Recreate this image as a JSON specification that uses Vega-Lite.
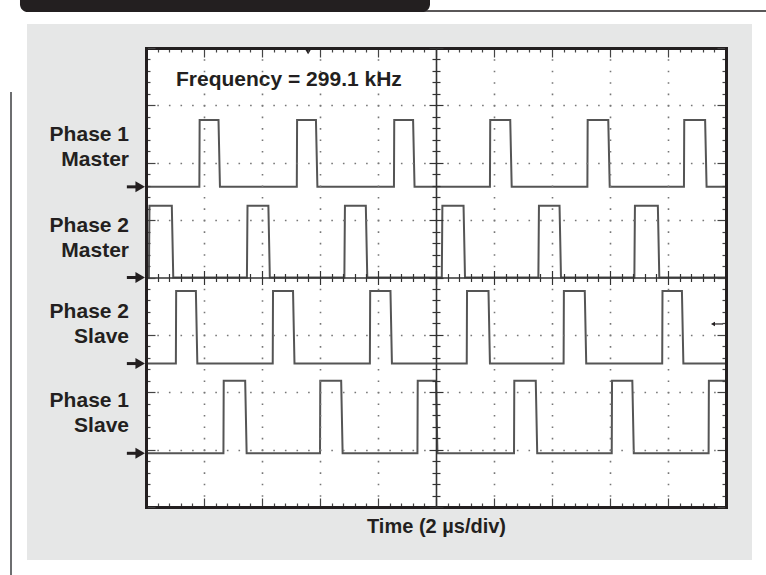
{
  "$schema": "https://vega.github.io/schema/vega-lite/v6.json",
  "autosize": {"type": "none"},
  "width": 580,
  "height": 459,
  "padding": {"left": 146, "top": 48, "right": 40, "bottom": 68},
  "background": "white",
  "view": {"stroke": null},
  "config": {"font": "Liberation Sans"},
  "data": {"values": [{}]},
  "datasets": {
    "tr": [
      {"s":"P1M","i":1,"t":0,"v":5.58},{"s":"P1M","i":2,"t":1.84,"v":5.58},{"s":"P1M","i":3,"t":1.85,"v":6.745},{"s":"P1M","i":4,"t":2.5,"v":6.745},{"s":"P1M","i":5,"t":2.55,"v":5.58},{"s":"P1M","i":6,"t":5.2,"v":5.58},{"s":"P1M","i":7,"t":5.21,"v":6.745},{"s":"P1M","i":8,"t":5.86,"v":6.745},{"s":"P1M","i":9,"t":5.91,"v":5.58},{"s":"P1M","i":10,"t":8.55,"v":5.58},{"s":"P1M","i":11,"t":8.56,"v":6.745},{"s":"P1M","i":12,"t":9.21,"v":6.745},{"s":"P1M","i":13,"t":9.26,"v":5.58},{"s":"P1M","i":14,"t":11.86,"v":5.58},{"s":"P1M","i":15,"t":11.87,"v":6.745},{"s":"P1M","i":16,"t":12.56,"v":6.745},{"s":"P1M","i":17,"t":12.61,"v":5.58},{"s":"P1M","i":18,"t":15.22,"v":5.58},{"s":"P1M","i":19,"t":15.23,"v":6.745},{"s":"P1M","i":20,"t":15.94,"v":6.745},{"s":"P1M","i":21,"t":15.99,"v":5.58},{"s":"P1M","i":22,"t":18.55,"v":5.58},{"s":"P1M","i":23,"t":18.56,"v":6.745},{"s":"P1M","i":24,"t":19.28,"v":6.745},{"s":"P1M","i":25,"t":19.33,"v":5.58},{"s":"P1M","i":26,"t":20,"v":5.58},
      {"s":"P2M","i":1,"t":0,"v":4.0},{"s":"P2M","i":2,"t":0.1,"v":4.0},{"s":"P2M","i":3,"t":0.12,"v":5.25},{"s":"P2M","i":4,"t":0.89,"v":5.25},{"s":"P2M","i":5,"t":0.94,"v":4.0},{"s":"P2M","i":6,"t":3.48,"v":4.0},{"s":"P2M","i":7,"t":3.5,"v":5.25},{"s":"P2M","i":8,"t":4.22,"v":5.25},{"s":"P2M","i":9,"t":4.27,"v":4.0},{"s":"P2M","i":10,"t":6.84,"v":4.0},{"s":"P2M","i":11,"t":6.86,"v":5.25},{"s":"P2M","i":12,"t":7.58,"v":5.25},{"s":"P2M","i":13,"t":7.63,"v":4.0},{"s":"P2M","i":14,"t":10.2,"v":4.0},{"s":"P2M","i":15,"t":10.22,"v":5.25},{"s":"P2M","i":16,"t":10.95,"v":5.25},{"s":"P2M","i":17,"t":11.0,"v":4.0},{"s":"P2M","i":18,"t":13.53,"v":4.0},{"s":"P2M","i":19,"t":13.55,"v":5.25},{"s":"P2M","i":20,"t":14.26,"v":5.25},{"s":"P2M","i":21,"t":14.31,"v":4.0},{"s":"P2M","i":22,"t":16.84,"v":4.0},{"s":"P2M","i":23,"t":16.86,"v":5.25},{"s":"P2M","i":24,"t":17.65,"v":5.25},{"s":"P2M","i":25,"t":17.7,"v":4.0},{"s":"P2M","i":26,"t":20,"v":4.0},
      {"s":"P2S","i":1,"t":0,"v":2.5},{"s":"P2S","i":2,"t":1.03,"v":2.5},{"s":"P2S","i":3,"t":1.04,"v":3.765},{"s":"P2S","i":4,"t":1.72,"v":3.765},{"s":"P2S","i":5,"t":1.77,"v":2.5},{"s":"P2S","i":6,"t":4.37,"v":2.5},{"s":"P2S","i":7,"t":4.38,"v":3.765},{"s":"P2S","i":8,"t":5.07,"v":3.765},{"s":"P2S","i":9,"t":5.12,"v":2.5},{"s":"P2S","i":10,"t":7.72,"v":2.5},{"s":"P2S","i":11,"t":7.73,"v":3.765},{"s":"P2S","i":12,"t":8.43,"v":3.765},{"s":"P2S","i":13,"t":8.48,"v":2.5},{"s":"P2S","i":14,"t":11.06,"v":2.5},{"s":"P2S","i":15,"t":11.07,"v":3.765},{"s":"P2S","i":16,"t":11.81,"v":3.765},{"s":"P2S","i":17,"t":11.86,"v":2.5},{"s":"P2S","i":18,"t":14.4,"v":2.5},{"s":"P2S","i":19,"t":14.41,"v":3.765},{"s":"P2S","i":20,"t":15.13,"v":3.765},{"s":"P2S","i":21,"t":15.18,"v":2.5},{"s":"P2S","i":22,"t":17.8,"v":2.5},{"s":"P2S","i":23,"t":17.81,"v":3.765},{"s":"P2S","i":24,"t":18.48,"v":3.765},{"s":"P2S","i":25,"t":18.53,"v":2.5},{"s":"P2S","i":26,"t":20,"v":2.5},
      {"s":"P1S","i":1,"t":0,"v":0.936},{"s":"P1S","i":2,"t":2.67,"v":0.936},{"s":"P1S","i":3,"t":2.68,"v":2.2},{"s":"P1S","i":4,"t":3.42,"v":2.2},{"s":"P1S","i":5,"t":3.47,"v":0.936},{"s":"P1S","i":6,"t":6.0,"v":0.936},{"s":"P1S","i":7,"t":6.01,"v":2.2},{"s":"P1S","i":8,"t":6.73,"v":2.2},{"s":"P1S","i":9,"t":6.78,"v":0.936},{"s":"P1S","i":10,"t":9.36,"v":0.936},{"s":"P1S","i":11,"t":9.37,"v":2.2},{"s":"P1S","i":12,"t":10.0,"v":2.2},{"s":"P1S","i":13,"t":10.05,"v":0.936},{"s":"P1S","i":14,"t":12.69,"v":0.936},{"s":"P1S","i":15,"t":12.7,"v":2.2},{"s":"P1S","i":16,"t":13.44,"v":2.2},{"s":"P1S","i":17,"t":13.49,"v":0.936},{"s":"P1S","i":18,"t":16.06,"v":0.936},{"s":"P1S","i":19,"t":16.07,"v":2.2},{"s":"P1S","i":20,"t":16.77,"v":2.2},{"s":"P1S","i":21,"t":16.82,"v":0.936},{"s":"P1S","i":22,"t":19.4,"v":0.936},{"s":"P1S","i":23,"t":19.41,"v":2.2},{"s":"P1S","i":24,"t":20,"v":2.2}
    ],
    "ch": [
      {"label": "Phase 1\nMaster", "base": 5.58},
      {"label": "Phase 2\nMaster", "base": 4.0},
      {"label": "Phase 2\nSlave", "base": 2.5},
      {"label": "Phase 1\nSlave", "base": 0.936}
    ]
  },
  "resolve": {"axis": {"x": "independent", "y": "independent"}},
  "layer": [
    {
      "mark": {"type": "rect", "fill": "#e6e7e7", "clip": false},
      "encoding": {
        "x": {"datum": -4.103, "type": "quantitative", "scale": {"domain": [0, 20], "nice": false, "zero": false}, "axis": null},
        "x2": {"datum": 20.897},
        "y": {"datum": 8.418, "type": "quantitative", "scale": {"domain": [0, 8], "nice": false, "zero": false}, "axis": null},
        "y2": {"datum": -0.924}
      }
    },
    {
      "mark": {"type": "rect", "fill": "white"},
      "encoding": {
        "x": {"datum": 0, "type": "quantitative", "axis": null},
        "x2": {"datum": 20},
        "y": {"datum": 0, "type": "quantitative", "axis": null},
        "y2": {"datum": 8}
      }
    },
    {
      "mark": {"type": "rect", "fill": "#231f20", "cornerRadiusBottomLeft": 13, "cornerRadiusBottomRight": 13},
      "encoding": {
        "x": {"datum": -4.345, "type": "quantitative", "axis": null},
        "x2": {"datum": 9.793},
        "y": {"datum": 8.9, "type": "quantitative", "axis": null},
        "y2": {"datum": 8.627}
      }
    },
    {
      "mark": {"type": "rule", "stroke": "#231f20", "strokeWidth": 1.5},
      "encoding": {
        "x": {"datum": 9.5, "type": "quantitative", "axis": null},
        "x2": {"datum": 21.4},
        "y": {"datum": 8.645, "type": "quantitative", "axis": null}
      }
    },
    {
      "mark": {"type": "rule", "stroke": "#6d6e70", "strokeWidth": 2},
      "encoding": {
        "x": {"datum": -4.655, "type": "quantitative", "axis": null},
        "y": {"datum": 7.233, "type": "quantitative", "axis": null},
        "y2": {"datum": -1.2}
      }
    },
    {
      "data": {"name": "tr"},
      "mark": {"type": "line", "stroke": "#555555", "strokeWidth": 2, "interpolate": "linear"},
      "encoding": {
        "detail": {"field": "s"},
        "order": {"field": "i", "type": "quantitative"},
        "x": {
          "field": "t", "type": "quantitative",
          "axis": {
            "orient": "bottom", "zindex": 1, "labels": false,
            "title": "Time (2 µs/div)", "titleFont": "Liberation Sans", "titleFontSize": 20, "titleFontWeight": "bold", "titleColor": "#231f20", "titlePadding": 9,
            "values": [0,0.4,0.8,1.2,1.6,2,2.4,2.8,3.2,3.6,4,4.4,4.8,5.2,5.6,6,6.4,6.8,7.2,7.6,8,8.4,8.8,9.2,9.6,10,10.4,10.8,11.2,11.6,12,12.4,12.8,13.2,13.6,14,14.4,14.8,15.2,15.6,16,16.4,16.8,17.2,17.6,18,18.4,18.8,19.2,19.6,20],
            "domain": true, "domainColor": "#231f20", "domainWidth": 3, "domainCap": "square",
            "ticks": true, "tickColor": "#444", "tickWidth": 1.2,
            "tickSize": {"condition": {"test": "abs(datum.value/2 - round(datum.value/2)) < 0.001", "value": -9}, "value": -4},
            "grid": true, "gridColor": "#777", "gridWidth": 1.6, "gridDash": [1.6, 9.875], "gridDashOffset": 0.8,
            "gridOpacity": {"condition": {"test": "abs(datum.value/2 - round(datum.value/2)) < 0.001 && datum.value > 0.1 && datum.value < 19.9 && abs(datum.value - 10) > 0.1", "value": 1}, "value": 0}
          }
        },
        "y": {
          "field": "v", "type": "quantitative",
          "axis": {
            "orient": "left", "zindex": 1, "labels": false, "title": null,
            "values": [0,0.2,0.4,0.6,0.8,1,1.2,1.4,1.6,1.8,2,2.2,2.4,2.6,2.8,3,3.2,3.4,3.6,3.8,4,4.2,4.4,4.6,4.8,5,5.2,5.4,5.6,5.8,6,6.2,6.4,6.6,6.8,7,7.2,7.4,7.6,7.8,8],
            "domain": true, "domainColor": "#231f20", "domainWidth": 3, "domainCap": "square",
            "ticks": true, "tickColor": "#444", "tickWidth": 1.2,
            "tickSize": {"condition": {"test": "abs(datum.value - round(datum.value)) < 0.001", "value": -9}, "value": -4},
            "grid": true, "gridColor": "#777", "gridWidth": 1.6, "gridDash": [1.6, 10.0], "gridDashOffset": 0.8,
            "gridOpacity": {"condition": {"test": "abs(datum.value - round(datum.value)) < 0.001 && datum.value > 0.1 && datum.value < 7.9 && abs(datum.value - 4) > 0.1", "value": 1}, "value": 0}
          }
        }
      }
    },
    {
      "data": {"name": "tr"},
      "mark": {"type": "point", "opacity": 0},
      "encoding": {
        "x": {
          "field": "t", "type": "quantitative",
          "axis": {
            "orient": "top", "zindex": 1, "labels": false, "title": null,
            "values": [0,0.4,0.8,1.2,1.6,2,2.4,2.8,3.2,3.6,4,4.4,4.8,5.2,5.6,6,6.4,6.8,7.2,7.6,8,8.4,8.8,9.2,9.6,10,10.4,10.8,11.2,11.6,12,12.4,12.8,13.2,13.6,14,14.4,14.8,15.2,15.6,16,16.4,16.8,17.2,17.6,18,18.4,18.8,19.2,19.6,20],
            "domain": true, "domainColor": "#231f20", "domainWidth": 3, "domainCap": "square",
            "ticks": true, "tickColor": "#444", "tickWidth": 1.2,
            "tickSize": {"condition": {"test": "abs(datum.value/2 - round(datum.value/2)) < 0.001", "value": -9}, "value": -4},
            "grid": false
          }
        },
        "y": {
          "field": "v", "type": "quantitative",
          "axis": {
            "orient": "right", "zindex": 1, "labels": false, "title": null,
            "values": [0,0.2,0.4,0.6,0.8,1,1.2,1.4,1.6,1.8,2,2.2,2.4,2.6,2.8,3,3.2,3.4,3.6,3.8,4,4.2,4.4,4.6,4.8,5,5.2,5.4,5.6,5.8,6,6.2,6.4,6.6,6.8,7,7.2,7.4,7.6,7.8,8],
            "domain": true, "domainColor": "#231f20", "domainWidth": 3, "domainCap": "square",
            "ticks": true, "tickColor": "#444", "tickWidth": 1.2,
            "tickSize": {"condition": {"test": "abs(datum.value - round(datum.value)) < 0.001", "value": -9}, "value": -4},
            "grid": false
          }
        }
      }
    },
    {
      "data": {"name": "tr"},
      "mark": {"type": "point", "opacity": 0},
      "encoding": {
        "x": {
          "field": "t", "type": "quantitative",
          "axis": {
            "orient": "bottom", "offset": -229.5, "zindex": 1, "labels": false, "title": null,
            "values": [0,0.4,0.8,1.2,1.6,2,2.4,2.8,3.2,3.6,4,4.4,4.8,5.2,5.6,6,6.4,6.8,7.2,7.6,8,8.4,8.8,9.2,9.6,10,10.4,10.8,11.2,11.6,12,12.4,12.8,13.2,13.6,14,14.4,14.8,15.2,15.6,16,16.4,16.8,17.2,17.6,18,18.4,18.8,19.2,19.6,20],
            "domain": true, "domainColor": "#333", "domainWidth": 1.6,
            "ticks": true, "tickColor": "#333", "tickWidth": 1.2,
            "tickSize": {"condition": {"test": "abs(datum.value/2 - round(datum.value/2)) < 0.001", "value": 7}, "value": 4},
            "grid": false
          }
        },
        "y": {
          "field": "v", "type": "quantitative",
          "axis": {
            "orient": "left", "offset": -290, "zindex": 1, "labels": false, "title": null,
            "values": [0,0.2,0.4,0.6,0.8,1,1.2,1.4,1.6,1.8,2,2.2,2.4,2.6,2.8,3,3.2,3.4,3.6,3.8,4,4.2,4.4,4.6,4.8,5,5.2,5.4,5.6,5.8,6,6.2,6.4,6.6,6.8,7,7.2,7.4,7.6,7.8,8],
            "domain": true, "domainColor": "#333", "domainWidth": 1.6,
            "ticks": true, "tickColor": "#333", "tickWidth": 1.2,
            "tickSize": {"condition": {"test": "abs(datum.value - round(datum.value)) < 0.001", "value": 7}, "value": 4},
            "grid": false
          }
        }
      }
    },
    {
      "data": {"name": "tr"},
      "mark": {"type": "point", "opacity": 0},
      "encoding": {
        "x": {
          "field": "t", "type": "quantitative",
          "axis": {
            "orient": "top", "offset": -229.5, "zindex": 1, "labels": false, "title": null,
            "values": [0,0.4,0.8,1.2,1.6,2,2.4,2.8,3.2,3.6,4,4.4,4.8,5.2,5.6,6,6.4,6.8,7.2,7.6,8,8.4,8.8,9.2,9.6,10,10.4,10.8,11.2,11.6,12,12.4,12.8,13.2,13.6,14,14.4,14.8,15.2,15.6,16,16.4,16.8,17.2,17.6,18,18.4,18.8,19.2,19.6,20],
            "domain": false,
            "ticks": true, "tickColor": "#333", "tickWidth": 1.2,
            "tickSize": {"condition": {"test": "abs(datum.value/2 - round(datum.value/2)) < 0.001", "value": 7}, "value": 4},
            "grid": false
          }
        },
        "y": {
          "field": "v", "type": "quantitative",
          "axis": {
            "orient": "right", "offset": -290, "zindex": 1, "labels": false, "title": null,
            "values": [0,0.2,0.4,0.6,0.8,1,1.2,1.4,1.6,1.8,2,2.2,2.4,2.6,2.8,3,3.2,3.4,3.6,3.8,4,4.2,4.4,4.6,4.8,5,5.2,5.4,5.6,5.8,6,6.2,6.4,6.6,6.8,7,7.2,7.4,7.6,7.8,8],
            "domain": false,
            "ticks": true, "tickColor": "#333", "tickWidth": 1.2,
            "tickSize": {"condition": {"test": "abs(datum.value - round(datum.value)) < 0.001", "value": 7}, "value": 4},
            "grid": false
          }
        }
      }
    },
    {
      "data": {"name": "ch"},
      "mark": {"type": "text", "align": "right", "baseline": "middle", "lineBreak": "\n", "lineHeight": 25, "font": "Liberation Sans", "fontSize": 21, "fontWeight": "bold", "fill": "#231f20", "yOffset": -52},
      "encoding": {
        "x": {"datum": -0.586, "type": "quantitative", "axis": null},
        "y": {"field": "base", "type": "quantitative", "axis": null},
        "text": {"field": "label"}
      }
    },
    {
      "data": {"name": "ch"},
      "mark": {"type": "rule", "stroke": "#231f20", "strokeWidth": 3},
      "encoding": {
        "x": {"datum": -0.66, "type": "quantitative", "axis": null},
        "x2": {"datum": -0.25},
        "y": {"field": "base", "type": "quantitative", "axis": null}
      }
    },
    {
      "data": {"name": "ch"},
      "mark": {"type": "point", "shape": "triangle-right", "filled": true, "fill": "#231f20", "opacity": 1, "size": 120},
      "encoding": {
        "x": {"datum": -0.2, "type": "quantitative", "axis": null},
        "y": {"field": "base", "type": "quantitative", "axis": null}
      }
    },
    {
      "mark": {"type": "text", "text": "Frequency = 299.1 kHz", "align": "left", "baseline": "alphabetic", "font": "Liberation Sans", "fontSize": 21, "fontWeight": "bold", "fill": "#231f20"},
      "encoding": {
        "x": {"datum": 1.034, "type": "quantitative", "axis": null},
        "y": {"datum": 7.338, "type": "quantitative", "axis": null}
      }
    },
    {
      "mark": {"type": "point", "shape": "triangle-down", "filled": true, "fill": "#231f20", "opacity": 1, "size": 30, "yOffset": 4},
      "encoding": {
        "x": {"datum": 5.59, "type": "quantitative", "axis": null},
        "y": {"datum": 8, "type": "quantitative", "axis": null}
      }
    },
    {
      "mark": {"type": "rule", "stroke": "#231f20", "strokeWidth": 1.2},
      "encoding": {
        "x": {"datum": 19.55, "type": "quantitative", "axis": null},
        "x2": {"datum": 19.9},
        "y": {"datum": 3.19, "type": "quantitative", "axis": null}
      }
    },
    {
      "mark": {"type": "point", "shape": "triangle-left", "filled": true, "fill": "#231f20", "opacity": 1, "size": 22},
      "encoding": {
        "x": {"datum": 19.55, "type": "quantitative", "axis": null},
        "y": {"datum": 3.19, "type": "quantitative", "axis": null}
      }
    }
  ]
}
